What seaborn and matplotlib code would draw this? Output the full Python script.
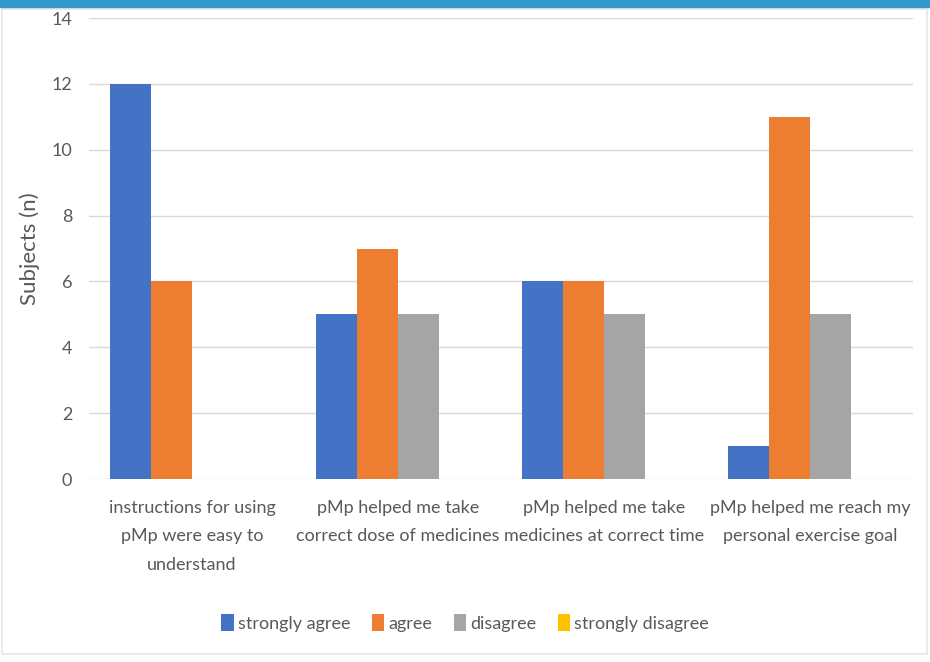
import pandas as pd
import seaborn as sns
import matplotlib.pyplot as plt
from matplotlib.patches import Rectangle

statements = [
    'instructions for using\npMp were easy to\nunderstand',
    'pMp helped me take\ncorrect dose of medicines',
    'pMp helped me take\nmedicines at correct time',
    'pMp helped me reach my\npersonal exercise goal',
]
responses = ['strongly agree', 'agree', 'disagree', 'strongly disagree']
strongly_agree = [12, 5, 6, 1]
agree = [6, 7, 6, 11]
disagree = [0, 5, 5, 5]
strongly_disagree = [0, 0, 0, 0]
colors = ['#4472C4', '#ED7D31', '#A5A5A5', '#FFC000']

rows = []
for resp, vals in zip(responses, [strongly_agree, agree, disagree, strongly_disagree]):
    for st, v in zip(statements, vals):
        rows.append({'statement': st, 'response': resp, 'subjects': v})
df = pd.DataFrame(rows)

sns.set_style('white')
plt.rcParams['font.family'] = ['Lato', 'DejaVu Sans']
txt = '#595959'

fig = plt.figure(figsize=(9.3, 6.62), dpi=100)
ax = fig.add_axes([89 / 930, 1 - 479 / 662, 824 / 930, 461 / 662])

sns.barplot(data=df, x='statement', y='subjects', hue='response',
            hue_order=responses, order=statements, palette=colors,
            width=0.8, saturation=1, errorbar=None, linewidth=0, ax=ax)

ax.set_ylim(0, 14)
ax.set_yticks(range(0, 15, 2))
ax.set_xlabel('')
ax.set_ylabel('Subjects (n)', fontsize=16, color=txt, labelpad=8)
ax.yaxis.grid(True, color='#D9D9D9', linewidth=1)
ax.set_axisbelow(True)
for s in ax.spines.values():
    s.set_visible(False)
ax.tick_params(axis='y', length=0, colors=txt, labelsize=13, pad=12)
ax.tick_params(axis='x', length=0, colors=txt, labelsize=13, pad=15)
for lab in ax.get_xticklabels():
    lab.set_linespacing(1.95)

ax.legend(loc='center', bbox_to_anchor=(0.5, 1 - 623 / 662),
          bbox_transform=fig.transFigure, ncol=4, frameon=False,
          fontsize=13, handlelength=0.7, handleheight=1.0,
          handletextpad=0.2, columnspacing=1.2, labelcolor=txt)

# header strip and frame
fig.patches.append(Rectangle((0, 1 - 7 / 662), 1, 7 / 662, transform=fig.transFigure,
                             color='#3399CC', zorder=5))
fig.patches.append(Rectangle((0.002, 0.012), 0.995, 0.975, transform=fig.transFigure,
                             fill=False, edgecolor='#E6E6E6', linewidth=1.2))

fig.savefig('out.png', dpi=100)
